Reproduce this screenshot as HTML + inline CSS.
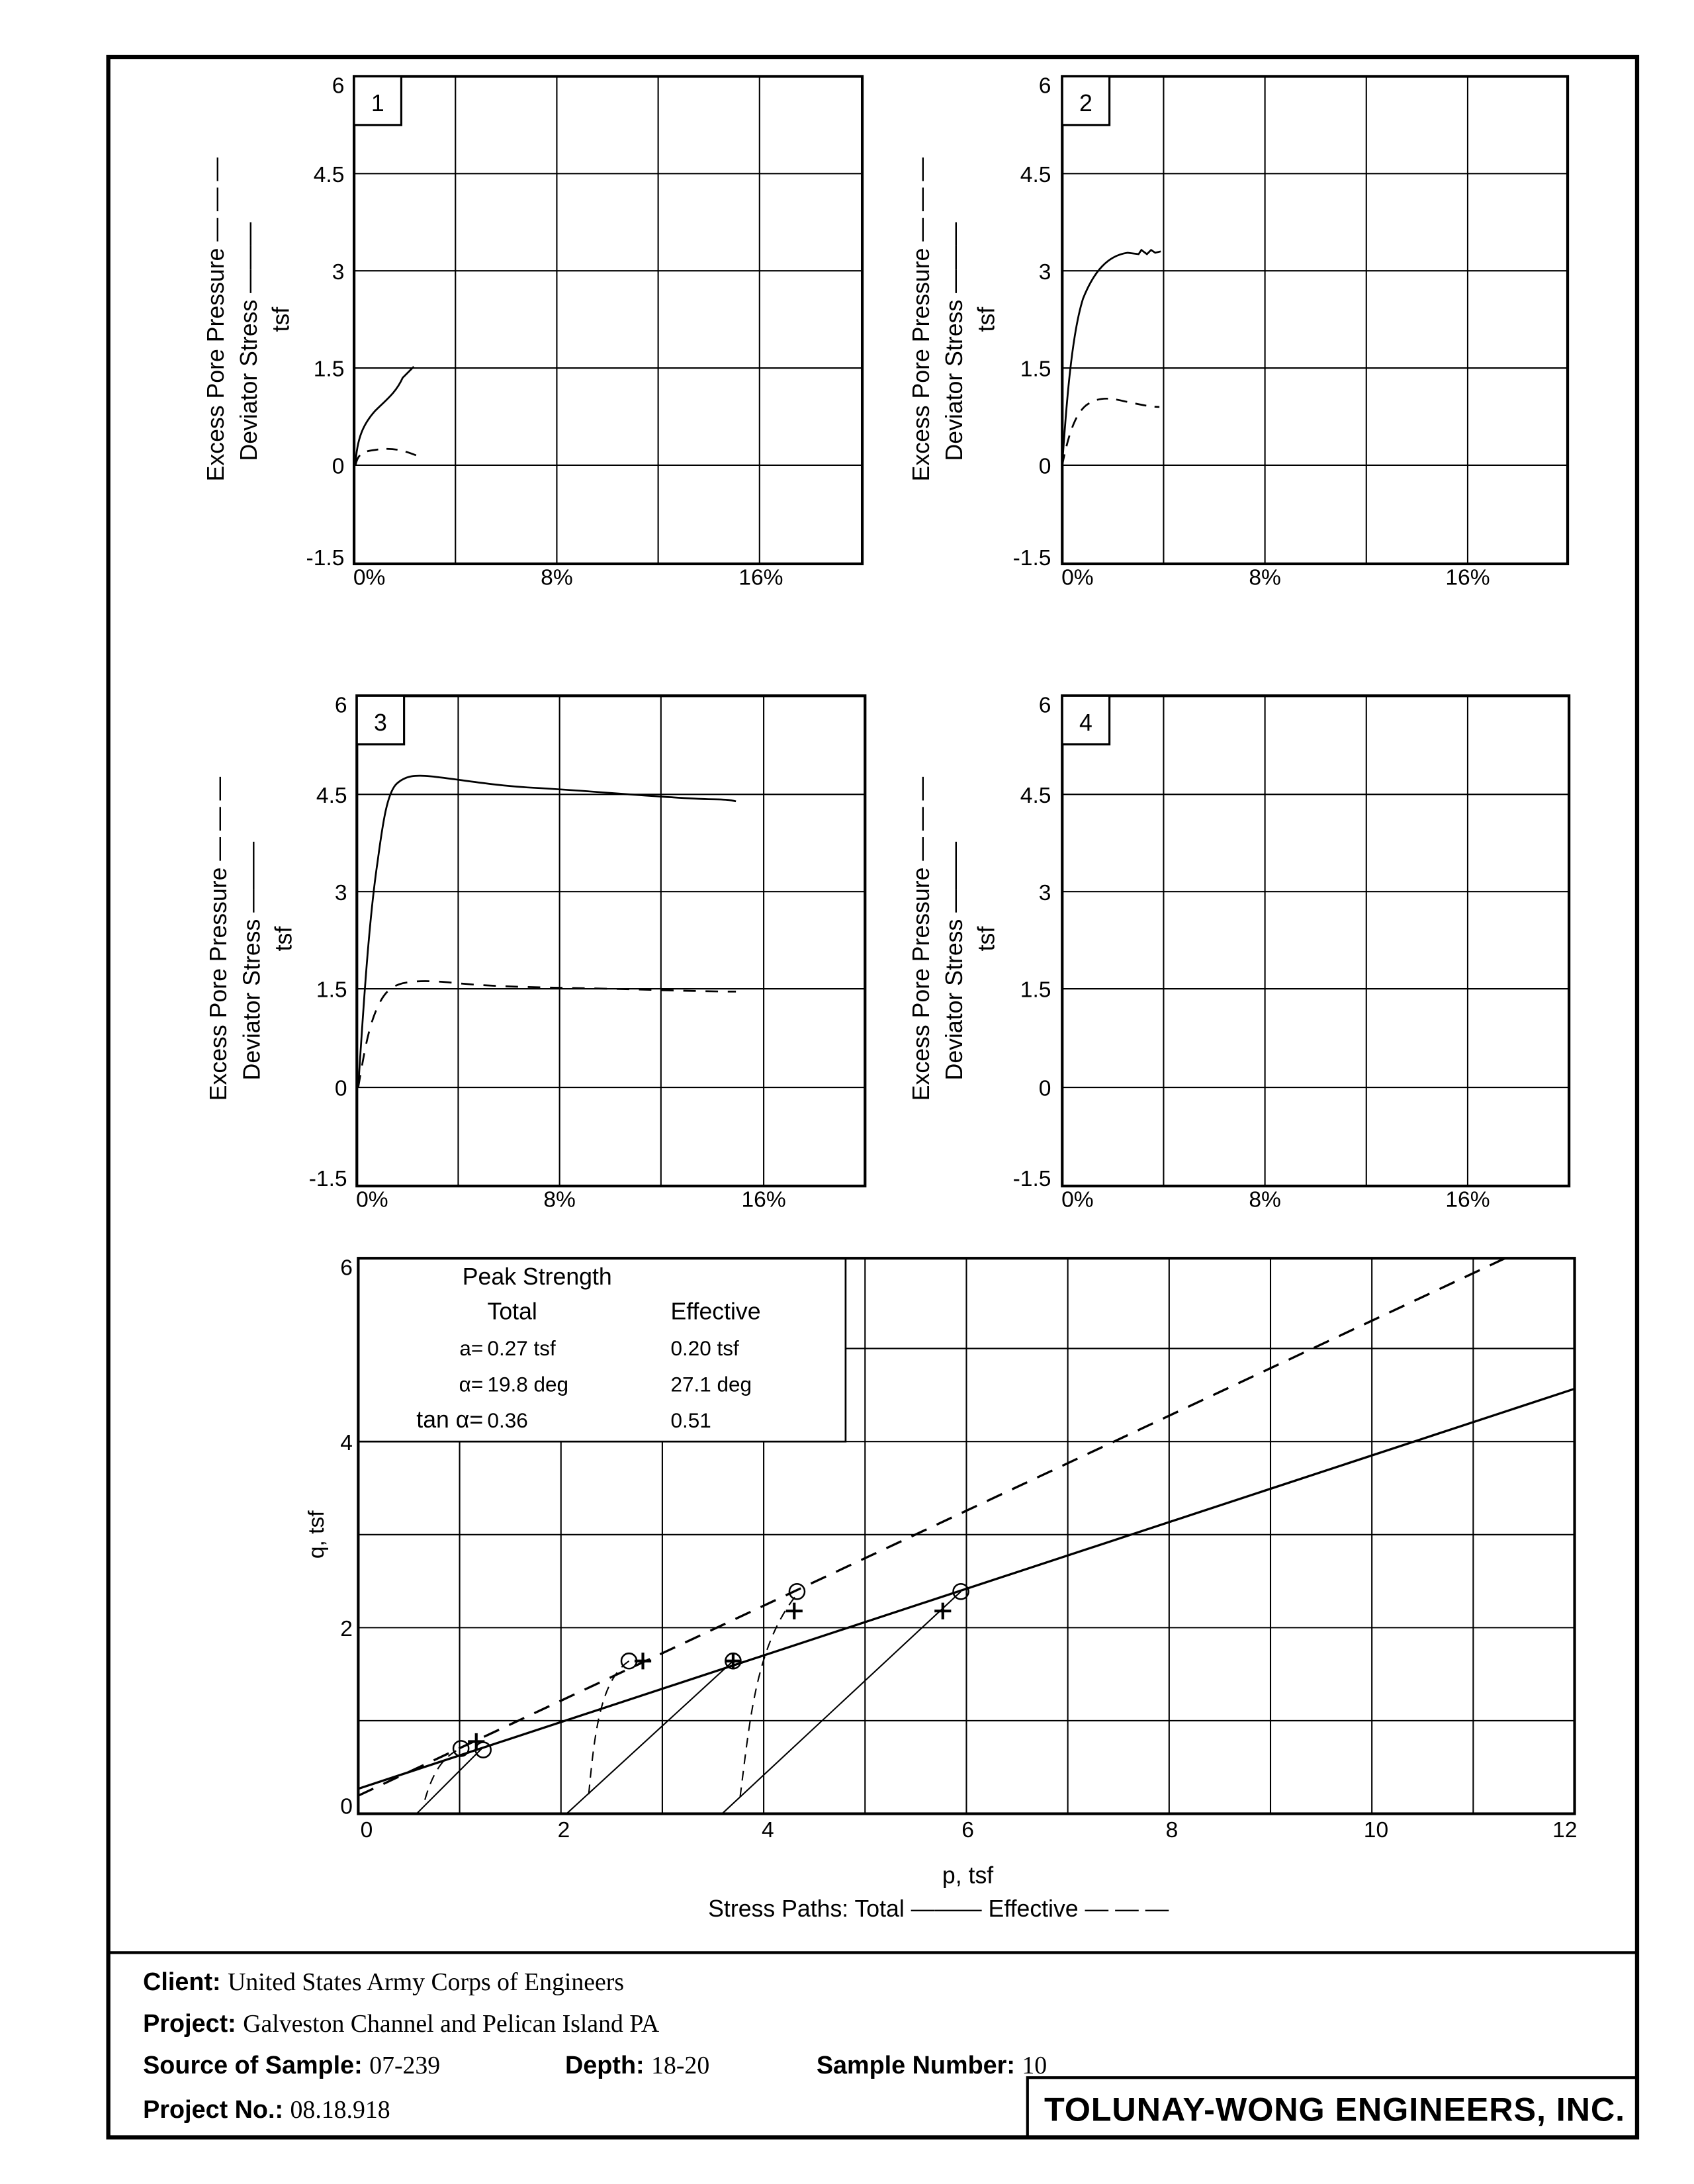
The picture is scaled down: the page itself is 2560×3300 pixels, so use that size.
<!DOCTYPE html>
<html><head><meta charset="utf-8"><style>
html,body{margin:0;padding:0;background:#fff}
svg{display:block}
text{font-family:"Liberation Sans",sans-serif;fill:#000}
.s{font-family:"Liberation Serif",serif}
</style></head><body>
<svg width="2560" height="3300" viewBox="0 0 1220 1572.6" preserveAspectRatio="none" xmlns="http://www.w3.org/2000/svg">
<rect width="1220" height="1573" fill="#fff"/>
<rect x="78" y="41" width="1101" height="1498" fill="none" stroke="#000" stroke-width="3"/>
<line x1="78" y1="1406" x2="1179" y2="1406" stroke="#000" stroke-width="2"/>
<rect x="740" y="1496" width="439" height="43" fill="none" stroke="#000" stroke-width="2"/>

<g stroke="#000" fill="none">
<g stroke-width="1">
<line x1="328" y1="55" x2="328" y2="406"/><line x1="401" y1="55" x2="401" y2="406"/><line x1="474" y1="55" x2="474" y2="406"/><line x1="547" y1="55" x2="547" y2="406"/>
<line x1="255" y1="125" x2="621" y2="125"/><line x1="255" y1="195" x2="621" y2="195"/><line x1="255" y1="265" x2="621" y2="265"/><line x1="255" y1="335" x2="621" y2="335"/>
</g>
<rect x="255" y="55" width="366" height="351" stroke-width="2"/>
<rect x="255" y="55" width="34" height="35" stroke-width="1.5" fill="#fff"/>
<path d="M256,335 C257,315 262,305 270,296 C278,288 285,283 290,272 L298,264" stroke-width="1.3"/>
<path d="M256,335 C258,326 262,325 270,324 C282,322 290,324 300,328" stroke-width="1.3" stroke-dasharray="8,6"/>

<g stroke-width="1">
<line x1="838" y1="55" x2="838" y2="406"/><line x1="911" y1="55" x2="911" y2="406"/><line x1="984" y1="55" x2="984" y2="406"/><line x1="1057" y1="55" x2="1057" y2="406"/>
<line x1="765" y1="125" x2="1129" y2="125"/><line x1="765" y1="195" x2="1129" y2="195"/><line x1="765" y1="265" x2="1129" y2="265"/><line x1="765" y1="335" x2="1129" y2="335"/>
</g>
<rect x="765" y="55" width="364" height="351" stroke-width="2"/>
<rect x="765" y="55" width="34" height="35" stroke-width="1.5" fill="#fff"/>
<path d="M765,335 C768,290 772,240 780,215 C788,195 798,184 812,182 L820,183 L822,180 L826,183 L829,180 L832,182 L836,181" stroke-width="1.3"/>
<path d="M765,335 C770,310 775,298 782,292 C790,286 798,286 810,289 C820,291 828,293 835,293" stroke-width="1.3" stroke-dasharray="8,6"/>

<g stroke-width="1">
<line x1="330" y1="501" x2="330" y2="854"/><line x1="403" y1="501" x2="403" y2="854"/><line x1="476" y1="501" x2="476" y2="854"/><line x1="550" y1="501" x2="550" y2="854"/>
<line x1="257" y1="572" x2="623" y2="572"/><line x1="257" y1="642" x2="623" y2="642"/><line x1="257" y1="712" x2="623" y2="712"/><line x1="257" y1="783" x2="623" y2="783"/>
</g>
<rect x="257" y="501" width="366" height="353" stroke-width="2"/>
<rect x="257" y="501" width="34" height="35" stroke-width="1.5" fill="#fff"/>
<path d="M258,783 C262,720 266,660 272,620 C276,590 279,572 285,565 C292,558 300,558 310,559 C330,561 350,565 380,567 C420,569 460,573 500,575 C515,576 522,575 530,577" stroke-width="1.3"/>
<path d="M258,783 C262,760 265,740 272,725 C277,714 282,710 290,708 C300,706 310,706 330,708 C360,711 400,711 440,712 C480,713 510,714 530,714" stroke-width="1.3" stroke-dasharray="9,7"/>

<g stroke-width="1">
<line x1="838" y1="501" x2="838" y2="854"/><line x1="911" y1="501" x2="911" y2="854"/><line x1="984" y1="501" x2="984" y2="854"/><line x1="1057" y1="501" x2="1057" y2="854"/>
<line x1="765" y1="572" x2="1130" y2="572"/><line x1="765" y1="642" x2="1130" y2="642"/><line x1="765" y1="712" x2="1130" y2="712"/><line x1="765" y1="783" x2="1130" y2="783"/>
</g>
<rect x="765" y="501" width="365" height="353" stroke-width="2"/>
<rect x="765" y="501" width="34" height="35" stroke-width="1.5" fill="#fff"/>

<g stroke-width="1">
<line x1="331" y1="906" x2="331" y2="1306"/><line x1="404" y1="906" x2="404" y2="1306"/><line x1="477" y1="906" x2="477" y2="1306"/><line x1="550" y1="906" x2="550" y2="1306"/><line x1="623" y1="906" x2="623" y2="1306"/><line x1="696" y1="906" x2="696" y2="1306"/><line x1="769" y1="906" x2="769" y2="1306"/><line x1="842" y1="906" x2="842" y2="1306"/><line x1="915" y1="906" x2="915" y2="1306"/><line x1="988" y1="906" x2="988" y2="1306"/><line x1="1061" y1="906" x2="1061" y2="1306"/>
<line x1="258" y1="1239" x2="1134" y2="1239"/><line x1="258" y1="1172" x2="1134" y2="1172"/><line x1="258" y1="1105" x2="1134" y2="1105"/><line x1="258" y1="1038" x2="1134" y2="1038"/><line x1="258" y1="971" x2="1134" y2="971"/>
</g>
<rect x="258" y="906" width="351" height="132" fill="#fff" stroke-width="1.3"/>
<rect x="258" y="906" width="876" height="400" stroke-width="2"/>
<line x1="258" y1="1288" x2="1134" y2="1000" stroke-width="1.6"/>
<line x1="258" y1="1293" x2="1084" y2="906" stroke-width="1.6" stroke-dasharray="12,8"/>
<g stroke-width="1">
<line x1="300" y1="1306" x2="348" y2="1258"/>
<line x1="408" y1="1306" x2="528" y2="1196"/>
<line x1="520" y1="1306" x2="692" y2="1146"/>
</g>
<g stroke-width="1" stroke-dasharray="7,5">
<path d="M306,1296 C312,1275 320,1264 332,1259"/>
<path d="M424,1292 C428,1250 432,1210 453,1196"/>
<path d="M533,1294 C540,1240 544,1185 574,1148"/>
</g>
<g stroke-width="1.2">
<circle cx="332" cy="1259" r="5.5"/><circle cx="348" cy="1260" r="5.5"/>
<circle cx="453" cy="1196" r="5.5"/><circle cx="528" cy="1196" r="5.5"/>
<circle cx="574" cy="1146" r="5.5"/><circle cx="692" cy="1146" r="5.5"/>
</g>
<g stroke-width="2">
<path d="M337,1254h12M343,1248v12"/>
<path d="M457,1196h12M463,1190v12"/>
<path d="M522,1196h12M528,1190v12"/>
<path d="M566,1160h12M572,1154v12"/>
<path d="M673,1160h12M679,1154v12"/>
</g>
</g>

<g font-size="16" text-anchor="end">
<text x="248" y="67">6</text><text x="248" y="131">4.5</text><text x="248" y="201">3</text><text x="248" y="271">1.5</text><text x="248" y="341">0</text><text x="248" y="407">-1.5</text>
<text x="757" y="67">6</text><text x="757" y="131">4.5</text><text x="757" y="201">3</text><text x="757" y="271">1.5</text><text x="757" y="341">0</text><text x="757" y="407">-1.5</text>
<text x="250" y="513">6</text><text x="250" y="578">4.5</text><text x="250" y="648">3</text><text x="250" y="718">1.5</text><text x="250" y="789">0</text><text x="250" y="854">-1.5</text>
<text x="757" y="513">6</text><text x="757" y="578">4.5</text><text x="757" y="648">3</text><text x="757" y="718">1.5</text><text x="757" y="789">0</text><text x="757" y="854">-1.5</text>
</g>
<g font-size="16" text-anchor="middle">
<text x="266" y="421">0%</text><text x="401" y="421">8%</text><text x="548" y="421">16%</text>
<text x="776" y="421">0%</text><text x="911" y="421">8%</text><text x="1057" y="421">16%</text>
<text x="268" y="869">0%</text><text x="403" y="869">8%</text><text x="550" y="869">16%</text>
<text x="776" y="869">0%</text><text x="911" y="869">8%</text><text x="1057" y="869">16%</text>
</g>
<g font-size="17" text-anchor="middle">
<text x="272" y="80">1</text><text x="782" y="80">2</text><text x="274" y="526">3</text><text x="782" y="526">4</text>
</g>
<g font-size="17" text-anchor="middle">
<text transform="translate(161,230) rotate(-90)">Excess Pore Pressure — — —</text>
<text transform="translate(185,246) rotate(-90)">Deviator Stress ———</text>
<text transform="translate(208,230) rotate(-90)">tsf</text>
<text transform="translate(669,230) rotate(-90)">Excess Pore Pressure — — —</text>
<text transform="translate(693,246) rotate(-90)">Deviator Stress ———</text>
<text transform="translate(716,230) rotate(-90)">tsf</text>
<text transform="translate(163,676) rotate(-90)">Excess Pore Pressure — — —</text>
<text transform="translate(187,692) rotate(-90)">Deviator Stress ———</text>
<text transform="translate(210,676) rotate(-90)">tsf</text>
<text transform="translate(669,676) rotate(-90)">Excess Pore Pressure — — —</text>
<text transform="translate(693,692) rotate(-90)">Deviator Stress ———</text>
<text transform="translate(716,676) rotate(-90)">tsf</text>
<text transform="translate(233,1105) rotate(-90)" font-size="16">q, tsf</text>
</g>
<g font-size="16" text-anchor="end">
<text x="254" y="918">6</text><text x="254" y="1044">4</text><text x="254" y="1178">2</text><text x="254" y="1306">0</text>
</g>
<g font-size="16" text-anchor="middle">
<text x="264" y="1323">0</text><text x="406" y="1323">2</text><text x="553" y="1323">4</text><text x="697" y="1323">6</text><text x="844" y="1323">8</text><text x="991" y="1323">10</text><text x="1127" y="1323">12</text>
</g>
<text x="697" y="1356" font-size="17" text-anchor="middle">p, tsf</text>
<text x="510" y="1380" font-size="17">Stress Paths:  Total ——— Effective — — —</text>
<text x="333" y="925" font-size="17">Peak Strength</text>
<text x="351" y="950" font-size="17">Total</text><text x="483" y="950" font-size="17">Effective</text>
<g font-size="15"><text x="348" y="976" text-anchor="end">a=</text><text x="351" y="976">0.27 tsf</text><text x="483" y="976">0.20 tsf</text>
<text x="348" y="1002" text-anchor="end">α=</text><text x="351" y="1002">19.8 deg</text><text x="483" y="1002">27.1 deg</text>
<text x="348" y="1028" text-anchor="end" font-size="17">tan α=</text><text x="351" y="1028">0.36</text><text x="483" y="1028">0.51</text></g>
<g font-size="18">
<text x="103" y="1433"><tspan font-weight="bold">Client: </tspan><tspan class="s">United States Army Corps of Engineers</tspan></text>
<text x="103" y="1463"><tspan font-weight="bold">Project: </tspan><tspan class="s">Galveston Channel and Pelican Island PA</tspan></text>
<text x="103" y="1493"><tspan font-weight="bold">Source of Sample: </tspan><tspan class="s">07-239</tspan></text>
<text x="407" y="1493"><tspan font-weight="bold">Depth: </tspan><tspan class="s">18-20</tspan></text>
<text x="588" y="1493"><tspan font-weight="bold">Sample Number: </tspan><tspan class="s">10</tspan></text>
<text x="103" y="1525"><tspan font-weight="bold">Project No.: </tspan><tspan class="s">08.18.918</tspan></text>
</g>
<text x="752" y="1527" font-size="24" font-weight="bold" textLength="418">TOLUNAY-WONG ENGINEERS, INC.</text>
</svg>
</body></html>
